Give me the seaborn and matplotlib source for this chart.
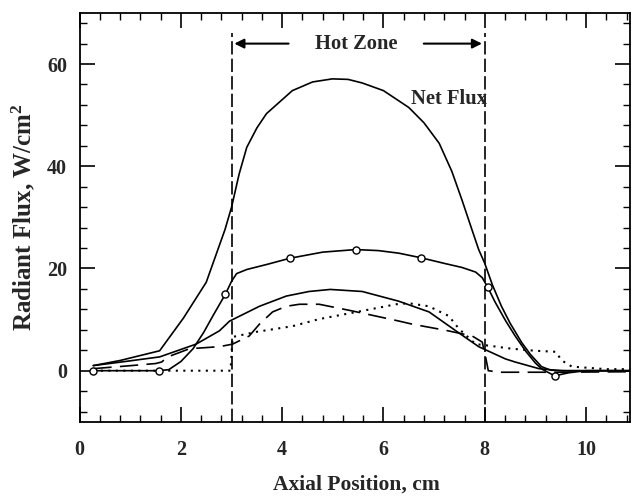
import matplotlib
matplotlib.use("Agg")
import matplotlib.pyplot as plt
from matplotlib.ticker import MultipleLocator
import seaborn as sns

# ---- data ----
net_x = [0.27, 0.8, 1.58, 2.05, 2.5, 2.87, 3.0, 3.15, 3.3, 3.5, 3.69, 4.2, 4.6, 4.99, 5.3, 5.58,
         6.0, 6.5, 6.8, 7.1, 7.35, 7.55, 7.75, 7.88, 8.0, 8.15, 8.33, 8.5, 8.73, 8.9, 9.12, 9.3, 9.6, 10.87]
net_y = [1.0, 2.0, 3.9, 10.3, 17.3, 27.6, 32.0, 38.5, 43.7, 47.5, 50.3, 54.8, 56.5, 57.1, 57.0, 56.3,
         54.8, 51.5, 48.5, 44.5, 39.0, 33.4, 27.5, 23.7, 21.0, 16.8, 12.6, 9.3, 5.5, 3.2, 0.8, 0.1, 0.0, 0.0]

circ_x = [0.27, 1.56, 1.76, 2.0, 2.24, 2.45, 2.63, 2.88, 3.0, 3.1, 3.3, 3.7, 4.15, 4.8, 5.45, 5.9,
          6.3, 6.74, 7.2, 7.55, 7.82, 7.95, 8.06, 8.2, 8.41, 8.6, 8.81, 9.0, 9.13, 9.38, 9.66, 10.0, 10.87]
circ_y = [0.0, 0.0, 0.2, 1.8, 4.3, 7.5, 10.7, 15.0, 17.5, 19.0, 19.8, 20.8, 22.0, 23.2, 23.7, 23.5,
          23.0, 22.1, 21.0, 20.2, 19.3, 18.2, 16.3, 13.5, 9.8, 6.8, 3.8, 1.5, 0.3, -1.0, -0.4, 0.0, 0.0]
mark_x = [0.27, 1.56, 2.88, 4.15, 5.45, 6.74, 8.06, 9.38]
mark_y = [0.0, 0.0, 15.0, 22.0, 23.7, 22.1, 16.3, -1.0]

mid_x = [0.27, 0.9, 1.58, 2.3, 2.76, 2.96, 3.55, 4.08, 4.53, 4.95, 5.58, 6.3, 6.9, 7.43, 7.88,
         8.41, 8.6, 9.07, 9.5, 10.87]
mid_y = [1.0, 1.8, 2.7, 5.2, 7.8, 9.7, 12.6, 14.6, 15.5, 15.9, 15.5, 13.6, 11.5, 7.8, 4.7,
         2.3, 1.7, 0.4, 0.0, 0.0]

dash_x = [0.27, 0.9, 1.5, 1.62, 1.74, 2.17, 2.76, 3.02, 3.35, 3.55, 3.81, 4.08, 4.34, 4.73, 5.38,
          6.31, 6.57, 7.23, 7.75, 7.95, 8.02, 8.07, 8.3, 9.5, 10.87]
dash_y = [0.4, 0.9, 1.4, 1.7, 2.7, 4.3, 4.7, 5.2, 6.8, 9.1, 11.5, 12.6, 13.0, 13.0, 11.7,
          9.7, 9.1, 7.9, 6.8, 5.6, 2.5, 0.0, -0.3, -0.3, -0.2]

dot_x = [0.27, 2.98, 3.02, 3.49, 4.2, 4.73, 5.58, 6.25, 6.5, 6.9, 7.1, 7.29, 7.49, 7.82, 8.08,
         8.53, 9.0, 9.4, 9.52, 9.72, 10.4, 10.87]
dot_y = [0.0, 0.0, 6.6, 7.6, 8.7, 10.1, 11.7, 13.0, 13.2, 12.6, 11.6, 10.7, 8.2, 5.2, 4.9,
         4.3, 3.9, 3.7, 2.0, 0.8, 0.3, 0.3]

zone_edges = [3.0, 8.0]
x_ticks = [0, 2, 4, 6, 8, 10]
y_ticks = [0, 20, 40, 60]

# ---- style ----
sns.set_style("ticks")
plt.rcParams["font.family"] = ["Liberation Serif", "DejaVu Serif"]
plt.rcParams["font.weight"] = "bold"
plt.rcParams["mathtext.fontset"] = "custom"
plt.rcParams["mathtext.rm"] = "Liberation Serif:bold"
plt.rcParams["mathtext.it"] = "Liberation Serif:bold"
plt.rcParams["mathtext.bf"] = "Liberation Serif:bold"

fig = plt.figure(figsize=(6.32, 4.98), dpi=100)
ax = fig.add_axes([0.126, 0.153, 0.871, 0.821])

lw = 1.2
sns.lineplot(x=net_x, y=net_y, ax=ax, color="black", lw=lw, sort=False, estimator=None)
sns.lineplot(x=circ_x, y=circ_y, ax=ax, color="black", lw=lw, sort=False, estimator=None)
sns.lineplot(x=mid_x, y=mid_y, ax=ax, color="black", lw=lw, sort=False, estimator=None)
sns.lineplot(x=dash_x, y=dash_y, ax=ax, color="black", lw=lw, sort=False, estimator=None,
             dashes=False, linestyle=(0, (11, 5)))
sns.lineplot(x=dot_x, y=dot_y, ax=ax, color="black", lw=1.5, sort=False, estimator=None,
             linestyle=(0, (1, 2.6)))
sns.scatterplot(x=mark_x, y=mark_y, ax=ax, s=26, facecolor="white", edgecolor="black",
                linewidth=1.0, zorder=5)

for xe in zone_edges:
    ax.vlines(xe, -10, 66, colors="black", lw=1.2, linestyles=(0, (8, 2.5)))

ax.annotate("", xy=(3.0, 64), xytext=(4.18, 64),
            arrowprops=dict(arrowstyle="-|>", color="black", lw=1.5, mutation_scale=14))
ax.annotate("", xy=(8.0, 64), xytext=(6.74, 64),
            arrowprops=dict(arrowstyle="-|>", color="black", lw=1.5, mutation_scale=14))
ax.text(5.47, 64, "Hot Zone", ha="center", va="center", fontsize=14.8, fontweight="bold")
ax.text(6.55, 53.2, "Net Flux", ha="left", va="center", fontsize=14.8, fontweight="bold")

ax.set_xlim(0, 10.87)
ax.set_ylim(-10, 70)
ax.set_xticks(x_ticks)
ax.set_yticks(y_ticks)
ax.xaxis.set_minor_locator(MultipleLocator(0.4))
ax.yaxis.set_minor_locator(MultipleLocator(4))
ax.tick_params(which="both", direction="in", top=True, right=True, color="black")
ax.tick_params(which="major", length=11, width=1.2)
ax.tick_params(which="minor", length=5, width=1.0)
ax.tick_params(axis="x", which="major", pad=13, labelsize=14.5)
ax.tick_params(axis="y", which="major", pad=9, labelsize=14.5)
for lab in ax.get_xticklabels() + ax.get_yticklabels():
    lab.set_fontweight("bold")
for sp in ax.spines.values():
    sp.set_linewidth(1.3)
    sp.set_color("black")

ax.set_xlabel("Axial Position, cm", fontsize=15.5, fontweight="bold")
ax.set_ylabel("Radiant Flux, W/cm$^2$", fontsize=18, fontweight="bold")
ax.xaxis.set_label_coords(0.502, -0.128)
ax.yaxis.set_label_coords(-0.078, 0.5)

fig.savefig("out.png", dpi=100)
